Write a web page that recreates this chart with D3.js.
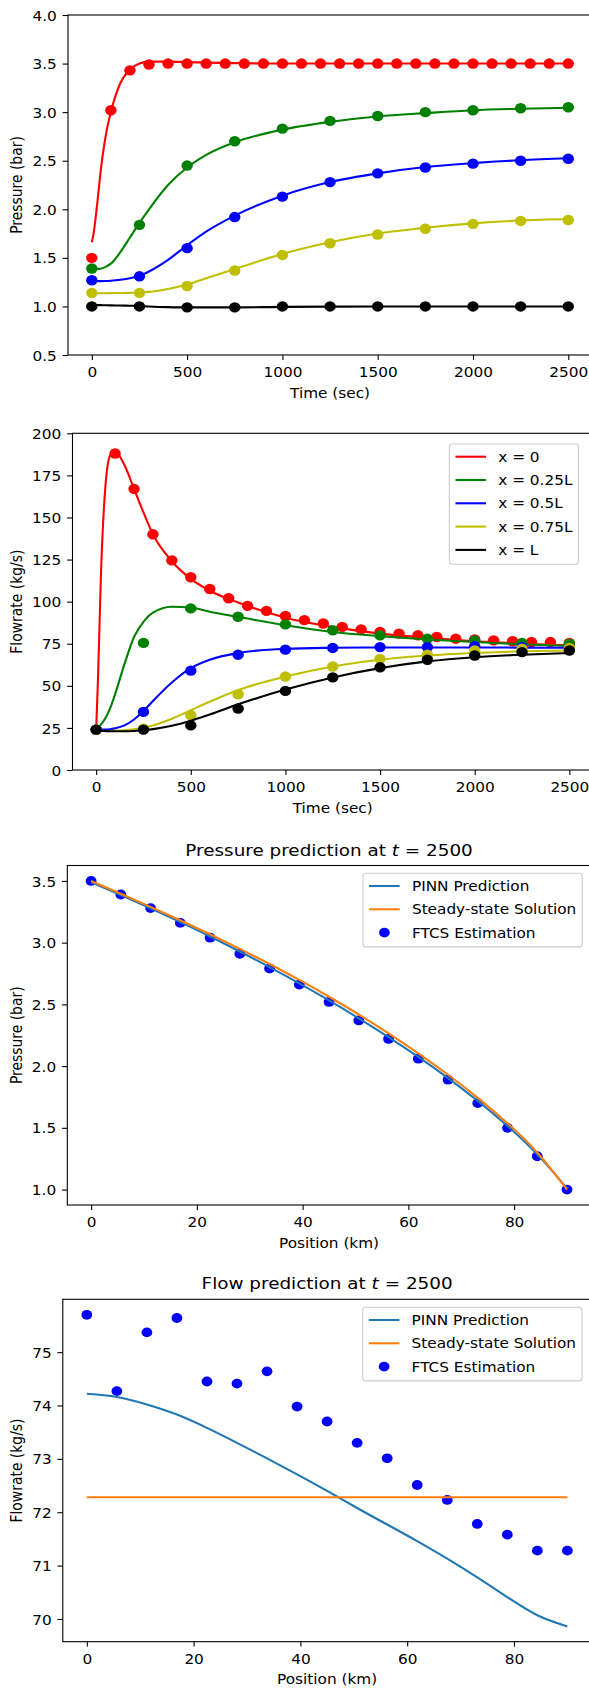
<!DOCTYPE html>
<html><head><meta charset="utf-8">
<script src="https://cdn.jsdelivr.net/npm/d3@7"></script>
<style>
body{margin:0;background:#fff}
svg{display:block}
text{font-family:"DejaVu Sans",sans-serif;font-size:13.9px;fill:#000}
</style>
</head><body>
<svg id="c" width="589" height="1691"></svg>
<script>
// ---------------- DATA ----------------
// Panel 1 & 2 : PINN curves sampled in time (sec)
const tLine = [0,10,25,50,75,100,150,200,250,300,400,500,600,750,1000,1250,1500,1750,2000,2250,2500];
const pRedLine    = [1.66,1.76,2.00,2.45,2.78,3.00,3.30,3.44,3.50,3.52,3.52,3.515,3.51,3.505,3.50,3.50,3.50,3.50,3.50,3.50,3.50];
const pGreenLine  = [1.38,1.38,1.385,1.39,1.41,1.44,1.56,1.71,1.86,2.00,2.25,2.43,2.56,2.69,2.82,2.90,2.955,2.99,3.02,3.035,3.045];
const pBlueLine   = [1.26,1.26,1.26,1.26,1.262,1.265,1.275,1.29,1.315,1.36,1.48,1.63,1.77,1.935,2.14,2.28,2.37,2.435,2.475,2.505,2.525];
const pYellowLine = [1.135,1.135,1.135,1.135,1.136,1.137,1.138,1.14,1.145,1.15,1.18,1.225,1.29,1.385,1.54,1.66,1.75,1.81,1.855,1.885,1.90];
const pBlackLine  = [1.015,1.015,1.014,1.013,1.012,1.011,1.009,1.007,1.005,1.0,0.993,0.99,0.99,0.99,0.995,0.998,1.0,1.0,1.0,1.0,1.0];

const qRedLine    = [24,55,115,170,187,189,181,167,153,140,124,113.5,106.5,99.5,90.5,85,81,78.5,76.5,75,74];
const qGreenLine  = [24,25,27,31,37,45,63,79,88,93.5,97,96.5,94,91,86,82,79.5,77.5,76,74.7,73.7];
const qBlueLine   = [24,24,24,24,24.2,24.8,26.5,30,35,41,52,60.5,65.5,69.5,72,72.6,72.8,72.8,72.8,72.7,72.6];
const qYellowLine = [24,23.5,23.3,23.2,23.2,23.3,23.6,24.2,25,26.5,30.5,35.5,40.5,47.5,55.5,61.5,65.5,68,69.5,70.5,71];
const qBlackLine  = [24,23.6,23.3,23.1,23,23,23,23.2,23.6,24.3,26.3,29.3,33,39,47.8,55,60.5,64.5,67,68.5,69.5];

// FTCS markers in time
const tMarkFine = [0,100,200,300,400,500,600,700,800,900,1000,1100,1200,1300,1400,1500,1600,1700,1800,1900,2000,2100,2200,2300,2400,2500];
const tMark = [0,250,500,750,1000,1250,1500,1750,2000,2250,2500];
const pRedMark    = [1.50,3.02,3.43,3.49,3.50,3.50,3.50,3.50,3.50,3.50,3.50,3.50,3.50,3.50,3.50,3.50,3.50,3.50,3.50,3.50,3.50,3.50,3.50,3.50,3.50,3.50];
const pGreenMark  = [1.39,1.84,2.45,2.70,2.83,2.91,2.96,3.00,3.02,3.04,3.05];
const pBlueMark   = [1.27,1.31,1.60,1.92,2.13,2.28,2.37,2.43,2.47,2.50,2.52];
const pYellowMark = [1.14,1.14,1.21,1.37,1.53,1.65,1.74,1.80,1.85,1.88,1.89];
const pBlackMark  = [1.00,1.00,0.99,0.99,1.00,1.00,1.00,1.00,1.00,1.00,1.00];

const qRedMark    = [24,188,167,140,124.5,114.5,107.5,102,97.5,94.5,91.5,89,87,85,83.5,82,81,80,79,78,77.5,77,76.5,76,76,75.5];
const qGreenMark  = [24,75.5,96,91,86.5,83,80,78,77,75.5,75];
const qBlueMark   = [24,34.5,59,68.5,71.5,72.5,73,73,73.5,73,72.5];
const qYellowMark = [24,24.5,32.5,45,55.5,61.5,66,68.5,71,72,72.5];
const qBlackMark  = [24,24,26.5,36.5,47,55,61,65.5,68,70,71];

const seriesNames  = ["x = 0","x = 0.25L","x = 0.5L","x = 0.75L","x = L"];
const seriesColors = ["#ff0000","#008000","#0000ff","#bfbf00","#000000"];

// Panel 3 & 4 : profiles along the pipe at t = 2500
const xPos = [0,5.625,11.25,16.875,22.5,28.125,33.75,39.375,45,50.625,56.25,61.875,67.5,73.125,78.75,84.375,90];
const ftcsP   = [3.50,3.39,3.28,3.16,3.04,2.91,2.79,2.66,2.52,2.37,2.22,2.06,1.89,1.70,1.50,1.27,1.00];
const pinnP   = [3.49,3.385,3.278,3.166,3.05,2.928,2.802,2.67,2.532,2.387,2.235,2.074,1.903,1.718,1.515,1.285,1.01];
const steadyP = [3.50,3.396,3.29,3.181,3.068,2.95,2.827,2.698,2.562,2.418,2.265,2.103,1.93,1.743,1.537,1.30,1.00];

const ftcsQ = [75.70,74.27,75.37,75.64,74.45,74.41,74.64,73.98,73.70,73.30,73.01,72.51,72.23,71.78,71.58,71.28,71.28];
const pinnQ = [74.22,74.16,74.02,73.83,73.58,73.30,73.01,72.71,72.40,72.08,71.77,71.46,71.13,70.78,70.41,70.07,69.86];
const steadyX = [0,90];
const steadyQ = [72.28,72.28];

const profileNames = ["PINN Prediction","Steady-state Solution","FTCS Estimation"];

const timeTicks = [0,500,1000,1500,2000,2500];
const posTicks = [0,20,40,60,80];
const p1Ticks = [0.5,1.0,1.5,2.0,2.5,3.0,3.5,4.0];
const q2Ticks = [0,25,50,75,100,125,150,175,200];
const p3Ticks = [1.0,1.5,2.0,2.5,3.0,3.5];
const q4Ticks = [70,71,72,73,74,75];

// ---------------- DRAWING ----------------
const SX = 1.1;      // horizontal stretch seen in the reference
const FS = 13.9;
const TICK = 4.9;
const svg = d3.select('#c');
let clipN = 0;

function stretchText(sel, x, y, str, anchor) {
  return sel.append('text')
    .attr('transform', `translate(${x},${y}) scale(${SX},1)`)
    .attr('text-anchor', anchor || 'middle')
    .text(str);
}

function panel(cfg) {
  const x = d3.scaleLinear().domain(cfg.xDomain).range([cfg.left, cfg.right]);
  const y = d3.scaleLinear().domain(cfg.yDomain).range([cfg.bottom, cfg.top]);
  const g = svg.append('g');
  const id = 'clip' + (clipN++);
  svg.append('clipPath').attr('id', id).append('rect')
    .attr('x', cfg.left).attr('y', cfg.top)
    .attr('width', cfg.right - cfg.left).attr('height', cfg.bottom - cfg.top);
  const plot = g.append('g').attr('clip-path', `url(#${id})`);

  const xa = g.append('g').attr('transform', `translate(0,${cfg.bottom})`)
    .call(d3.axisBottom(x).tickValues(cfg.xTicks).tickFormat(d3.format('d')).tickSize(TICK).tickSizeOuter(0));
  xa.attr('font-size', null).attr('font-family', null);
  xa.select('.domain').remove();
  xa.selectAll('line').attr('stroke', '#000').attr('stroke-width', 1.1);
  xa.selectAll('text').attr('y', null).attr('dy', null).attr('fill', null)
    .attr('transform', `translate(0,${TICK + 17.5}) scale(${SX},1)`);

  const ya = g.append('g').attr('transform', `translate(${cfg.left},0)`)
    .call(d3.axisLeft(y).tickValues(cfg.yTicks).tickFormat(cfg.yFmt).tickSize(TICK).tickSizeOuter(0));
  ya.attr('font-size', null).attr('font-family', null);
  ya.select('.domain').remove();
  ya.selectAll('line').attr('stroke', '#000').attr('stroke-width', 1.1)
    .attr('transform', `scale(${SX},1)`);
  ya.selectAll('text').attr('x', null).attr('dy', null).attr('fill', null)
    .attr('transform', `translate(${-(TICK * SX + 5.8)},5.1) scale(${SX},1)`);

  g.append('rect').attr('x', cfg.left).attr('y', cfg.top)
    .attr('width', cfg.right - cfg.left).attr('height', cfg.bottom - cfg.top)
    .attr('fill', 'none').attr('stroke', '#000').attr('stroke-width', 1.1);

  // labels
  stretchText(g, (cfg.left + cfg.right) / 2, cfg.bottom + 42.5, cfg.xLabel);
  g.append('text')
    .attr('transform', `translate(22,${(cfg.top + cfg.bottom) / 2}) scale(${SX},1) rotate(-90)`)
    .attr('text-anchor', 'middle').text(cfg.yLabel);
  if (cfg.title) {
    const t = g.append('text')
      .attr('transform', `translate(${(cfg.left + cfg.right) / 2},${cfg.top - 10}) scale(${SX},1)`)
      .attr('text-anchor', 'middle').style('font-size', '16.7px');
    t.append('tspan').text(cfg.title + ' ');
    t.append('tspan').attr('font-style', 'italic').text('t');
    t.append('tspan').text(' = 2500');
  }
  return {x, y, g, plot};
}

function legend(g, right, top, items) {
  const lg = g.append('g');
  const rect = lg.append('rect');
  const rowH = 23.3, first = 12.7, last = 14.3;
  const padL = 0.4 * FS * SX, hLen = 2 * FS * SX, tPad = 0.8 * FS * SX;
  const texts = items.map(it => lg.append('text').text(it.label));
  const maxW = d3.max(texts, t => t.node().getComputedTextLength()) * SX;
  const width = padL + hLen + tPad + maxW + padL;
  const left = right - width;
  const bottom = top + first + (items.length - 1) * rowH + last;
  rect.attr('x', left).attr('y', top).attr('width', width).attr('height', bottom - top)
    .attr('rx', 3).attr('fill', '#fff').attr('fill-opacity', 0.8)
    .attr('stroke', '#cccccc').attr('stroke-width', 1.1);
  items.forEach((it, i) => {
    const cy = top + first + i * rowH;
    const hx = left + padL;
    if (it.type === 'line') {
      lg.append('line').attr('x1', hx).attr('x2', hx + hLen).attr('y1', cy).attr('y2', cy)
        .attr('stroke', it.color).attr('stroke-width', 2.1);
    } else {
      lg.append('ellipse').attr('cx', hx + hLen / 2).attr('cy', cy)
        .attr('rx', it.r * SX).attr('ry', it.r).attr('fill', it.color);
    }
    texts[i].attr('transform', `translate(${hx + hLen + tPad},${cy + 4.9}) scale(${SX},1)`);
  });
}

function lineGen(x, y, xs, curve) {
  return d3.line().x((d, i) => x(xs[i])).y(d => y(d)).curve(curve || d3.curveMonotoneX);
}

function markers(plot, x, y, xs, ys, color, r) {
  plot.append('g').selectAll('ellipse').data(ys).join('ellipse')
    .attr('cx', (d, i) => x(xs[i])).attr('cy', d => y(d))
    .attr('rx', r * SX).attr('ry', r).attr('fill', color);
}

// ---- Panel 1 : pressure vs time
{
  const P = panel({left: 68, right: 592.1, top: 15, bottom: 355,
    xDomain: [-125, 2625], yDomain: [0.5, 4.0], xTicks: timeTicks, yTicks: p1Ticks,
    yFmt: d3.format('.1f'), xLabel: 'Time (sec)', yLabel: 'Pressure (bar)'});
  const lines = [pRedLine, pGreenLine, pBlueLine, pYellowLine, pBlackLine];
  const marks = [pRedMark, pGreenMark, pBlueMark, pYellowMark, pBlackMark];
  lines.forEach((L, k) => {
    P.plot.append('path').attr('d', lineGen(P.x, P.y, tLine)(L))
      .attr('fill', 'none').attr('stroke', seriesColors[k]).attr('stroke-width', 2.1);
    markers(P.plot, P.x, P.y, k === 0 ? tMarkFine : tMark, marks[k], seriesColors[k], 5.2);
  });
}

// ---- Panel 2 : flowrate vs time
{
  const P = panel({left: 72.5, right: 593, top: 433.3, bottom: 770,
    xDomain: [-125, 2625], yDomain: [0, 200], xTicks: timeTicks, yTicks: q2Ticks,
    yFmt: d3.format('d'), xLabel: 'Time (sec)', yLabel: 'Flowrate (kg/s)'});
  const lines = [qRedLine, qGreenLine, qBlueLine, qYellowLine, qBlackLine];
  const marks = [qRedMark, qGreenMark, qBlueMark, qYellowMark, qBlackMark];
  lines.forEach((L, k) => {
    P.plot.append('path').attr('d', lineGen(P.x, P.y, tLine)(L))
      .attr('fill', 'none').attr('stroke', seriesColors[k]).attr('stroke-width', 2.1);
    markers(P.plot, P.x, P.y, k === 0 ? tMarkFine : tMark, marks[k], seriesColors[k], 5.2);
  });
  legend(P.g, 578.5, 444, seriesNames.map((n, k) => ({label: n, type: 'line', color: seriesColors[k]})));
}

// ---- Panel 3 : pressure profile
{
  const P = panel({left: 67.3, right: 590.8, top: 865.5, bottom: 1205,
    xDomain: [-4.5, 94.5], yDomain: [0.875, 3.625], xTicks: posTicks, yTicks: p3Ticks,
    yFmt: d3.format('.1f'), xLabel: 'Position (km)', yLabel: 'Pressure (bar)',
    title: 'Pressure prediction at'});
  markers(P.plot, P.x, P.y, xPos, ftcsP, '#0000ff', 4.9);
  P.plot.append('path').attr('d', lineGen(P.x, P.y, xPos, d3.curveNatural)(pinnP))
    .attr('fill', 'none').attr('stroke', '#1f77b4').attr('stroke-width', 2.1);
  P.plot.append('path').attr('d', lineGen(P.x, P.y, xPos, d3.curveNatural)(steadyP))
    .attr('fill', 'none').attr('stroke', '#ff7f0e').attr('stroke-width', 2.1);
  legend(P.g, 582.3, 873.3, [
    {label: profileNames[0], type: 'line', color: '#1f77b4'},
    {label: profileNames[1], type: 'line', color: '#ff7f0e'},
    {label: profileNames[2], type: 'dot', color: '#0000ff', r: 4.9}]);
}

// ---- Panel 4 : flow profile
{
  const P = panel({left: 62.8, right: 591.4, top: 1299.3, bottom: 1641.7,
    xDomain: [-4.5, 94.5], yDomain: [69.574, 75.99], xTicks: posTicks, yTicks: q4Ticks,
    yFmt: d3.format('d'), xLabel: 'Position (km)', yLabel: 'Flowrate (kg/s)',
    title: 'Flow prediction at'});
  markers(P.plot, P.x, P.y, xPos, ftcsQ, '#0000ff', 4.9);
  P.plot.append('path').attr('d', lineGen(P.x, P.y, xPos, d3.curveNatural)(pinnQ))
    .attr('fill', 'none').attr('stroke', '#1f77b4').attr('stroke-width', 2.1);
  P.plot.append('path').attr('d', lineGen(P.x, P.y, steadyX)(steadyQ))
    .attr('fill', 'none').attr('stroke', '#ff7f0e').attr('stroke-width', 2.1);
  legend(P.g, 582, 1307.3, [
    {label: profileNames[0], type: 'line', color: '#1f77b4'},
    {label: profileNames[1], type: 'line', color: '#ff7f0e'},
    {label: profileNames[2], type: 'dot', color: '#0000ff', r: 4.9}]);
}
</script>
</body></html>
